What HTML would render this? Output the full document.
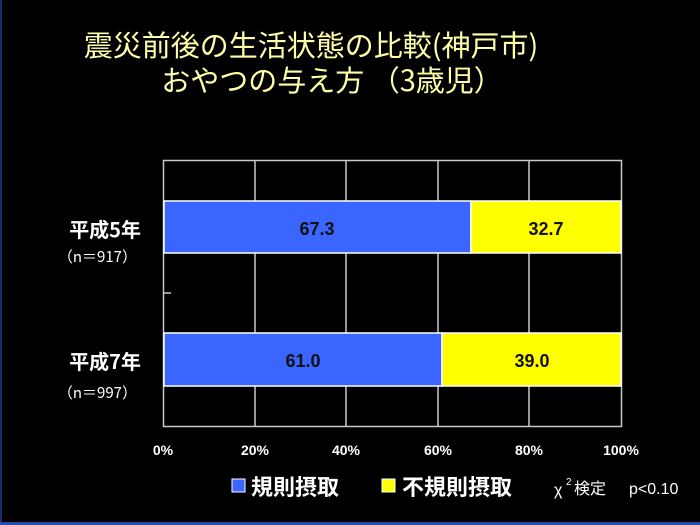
<!DOCTYPE html>
<html><head><meta charset="utf-8"><style>
body{margin:0;background:#000;}
#c{position:relative;width:700px;height:525px;background:#000;overflow:hidden;font-family:"Liberation Sans","Noto Sans CJK JP",sans-serif;}
.t{position:absolute;white-space:nowrap;}
</style></head><body><div id="c">
<div style="position:absolute;left:0;top:0;width:2px;height:525px;background:#1a2a6a"></div>
<div style="position:absolute;left:0;top:522px;width:700px;height:3px;background:#2a4ab0"></div>
<div class="t" style="left:0;width:622px;text-align:center;top:27px;font-size:29px;line-height:35px;color:#ffffa8;font-family:'Noto Sans CJK JP',sans-serif;">震災前後の生活状態の比較(神戸市)</div>
<div class="t" style="left:0;width:664px;text-align:center;top:62px;font-size:29px;line-height:35px;color:#ffffa8;font-family:'Noto Sans CJK JP',sans-serif;">おやつの与え方 （3歳児）</div>
<svg width="700" height="525" style="position:absolute;left:0;top:0">
<g stroke="#c8c8c8" stroke-width="1.5" fill="none">
<rect x="163.5" y="160.5" width="458" height="266"/>
<line x1="255" y1="160" x2="255" y2="426"/><line x1="346" y1="160" x2="346" y2="426"/>
<line x1="438" y1="160" x2="438" y2="426"/><line x1="529" y1="160" x2="529" y2="426"/>
<line x1="163" y1="293" x2="171" y2="293"/>
</g>
<g stroke="#fff" stroke-width="1.5">
<rect x="164" y="201" width="307" height="52" fill="#3a66ff"/>
<rect x="471" y="201" width="150" height="52" fill="#ffff00"/>
<rect x="164" y="333" width="278" height="53" fill="#3a66ff"/>
<rect x="442" y="333" width="179" height="53" fill="#ffff00"/>
</g>
<g font-family="Liberation Sans,sans-serif" font-size="18" font-weight="bold" fill="#111" text-anchor="middle">
<text x="317" y="235">67.3</text><text x="546" y="235">32.7</text>
<text x="303" y="367">61.0</text><text x="532" y="367">39.0</text>
</g>
<g font-family="Liberation Sans,sans-serif" font-size="14" font-weight="bold" fill="#fff" text-anchor="middle">
<text x="163" y="455">0%</text><text x="255" y="455">20%</text><text x="346" y="455">40%</text>
<text x="438" y="455">60%</text><text x="529" y="455">80%</text><text x="621" y="455">100%</text>
</g>
<g font-family="Noto Sans CJK JP,sans-serif" fill="#fff" text-anchor="end">
<text x="141" y="237" font-size="20" font-weight="bold">平成5年</text>
<text x="137" y="262" font-size="15">（n＝917）</text>
<text x="141" y="369" font-size="20" font-weight="bold">平成7年</text>
<text x="137" y="398" font-size="15">（n＝997）</text>
</g>
<rect x="232" y="479" width="13" height="13" fill="#3a66ff" stroke="#fff" stroke-width="1"/>
<rect x="382" y="479" width="13" height="13" fill="#ffff00" stroke="#fff" stroke-width="1"/>
<g font-family="Noto Sans CJK JP,sans-serif" font-weight="bold" font-size="22" fill="#fff">
<text x="251" y="495">規則摂取</text><text x="402" y="495">不規則摂取</text>
</g>
<g font-family="Liberation Sans,Noto Sans CJK JP,sans-serif" font-size="16" fill="#fff">
<text x="554" y="495">χ</text><text x="566" y="485" font-size="10">2</text>
<text x="574" y="494" font-family="Noto Sans CJK JP,sans-serif">検定</text><text x="629" y="494">p&lt;0.10</text>
</g>
</svg>
</div></body></html>
